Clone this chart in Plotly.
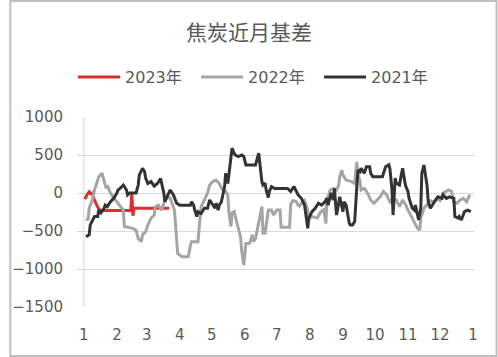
import plotly.graph_objects as go

BASE_YEAR = 2021

# ---------------- data (dates as month-day, values in yuan/ton) ----------------
dates_2023 = ["01-02", "01-04", "01-06", "01-07", "01-09", "01-10", "01-13", "01-16",
              "02-14", "02-15", "02-16", "02-17", "03-22"]
basis_2023 = [-80, -20, 15, -10, 0, -60, -160, -230,
              -230, 0, -300, -200, -200]

dates_2022 = ["01-03", "01-05", "01-06", "01-09", "01-11", "01-13", "01-15", "01-18", "01-20", "01-22",
              "01-23", "01-26", "01-29", "02-01", "02-04", "02-07", "02-08", "02-16", "02-19", "02-21",
              "02-24", "02-25", "02-28", "03-02", "03-05", "03-08", "03-09", "03-12", "03-15", "03-17",
              "03-20", "03-23", "03-27", "03-29", "03-30", "04-03", "04-09", "04-11", "04-12", "04-18",
              "04-20", "04-21", "04-24", "04-27", "04-29", "05-02", "05-05", "05-08", "05-11", "05-14",
              "05-16", "05-17", "05-19", "05-20", "05-22", "05-23", "05-25", "05-28", "05-29", "05-31",
              "06-02", "06-05", "06-06", "06-08", "06-09", "06-11", "06-14", "06-15", "06-17", "06-18",
              "06-20", "06-23", "06-26", "06-28", "07-01", "07-04", "07-05", "07-13", "07-14", "07-16",
              "07-19", "07-21", "07-22", "07-24", "07-27", "07-30", "07-31", "08-03", "08-08", "08-11",
              "08-14", "08-16", "08-17", "08-20", "08-23", "08-26", "08-28", "08-29", "08-31", "09-01",
              "09-04", "09-09", "09-12", "09-14", "09-15", "09-17", "09-18", "09-21", "09-24", "09-27",
              "09-30", "10-03", "10-06", "10-09", "10-12", "10-15", "10-18", "10-21", "10-24", "10-27",
              "10-30", "11-01", "11-04", "11-07", "11-10", "11-12", "11-13", "11-16", "11-19", "11-22",
              "11-25", "11-28", "12-01", "12-04", "12-09", "12-12", "12-14", "12-17", "12-20", "12-23",
              "12-26", "12-29"]
basis_2022 = [-333, -355, -200, -92, 40, 120, 215, 260, 150, 60,
              100, 0, -65, -120, -160, -225, -440, -465, -490, -600,
              -640, -550, -510, -420, -330, -290, -180, -160, -225, -135,
              -50, -70, -225, -575, -795, -840, -840, -685, -640, -640,
              -355, -180, -92, 0, 105, 150, 170, 125, 40, 20,
              -25, -245, -440, -265, -245, -310, -420, -575, -750, -950,
              -665, -665, -640, -550, -640, -600, -400, -330, -180, -530,
              -530, -225, -225, -290, -225, -225, -450, -450, -150, -100,
              -110, -160, -170, -140, -100, -225, -340, -310, -330, -250,
              -220, -400, -92, 40, 60, 40, 100, 215, 300, 235,
              170, 150, 125, 410, 260, 150, 40, 60, 0, -92,
              -135, -92, -50, 20, -25, -115, -70, -92, -180, -92,
              -160, -225, -310, -400, -465, -490, -330, -200, -150, -100,
              -120, -70, -100, 0, 40, 20, -115, -135, -92, -70,
              -115, -20]

dates_2021 = ["01-03", "01-06", "01-07", "01-09", "01-11", "01-14", "01-15", "01-17", "01-20", "01-21",
              "01-23", "01-26", "01-29", "02-01", "02-02", "02-04", "02-07", "02-08", "02-10", "02-11",
              "02-13", "02-19", "02-21", "02-22", "02-25", "02-27", "02-28", "03-02", "03-05", "03-08",
              "03-11", "03-14", "03-15", "03-17", "03-18", "03-22", "03-23", "03-26", "03-29", "04-01",
              "04-11", "04-12", "04-14", "04-15", "04-17", "04-18", "04-21", "04-24", "04-27", "04-29",
              "05-02", "05-04", "05-05", "05-07", "05-08", "05-10", "05-11", "05-13", "05-14", "05-16",
              "05-17", "05-19", "05-20", "05-22", "05-23", "05-26", "05-29", "05-31", "06-02", "06-06",
              "06-11", "06-14", "06-15", "06-17", "06-18", "06-20", "06-21", "06-23", "06-24", "06-26",
              "06-29", "07-11", "07-14", "07-17", "07-21", "07-24", "07-27", "07-28", "07-30", "07-31",
              "08-03", "08-06", "08-09", "08-12", "08-15", "08-17", "08-18", "08-21", "08-23", "08-24",
              "08-26", "08-28", "08-29", "09-01", "09-02", "09-04", "09-07", "09-08", "09-10", "09-12",
              "09-14", "09-15", "09-17", "09-18", "09-21", "09-23", "09-26", "09-27", "09-29", "10-08",
              "10-11", "10-14", "10-15", "10-17", "10-18", "10-20", "10-21", "10-24", "10-26", "10-27",
              "10-29", "10-30", "11-01", "11-02", "11-05", "11-07", "11-08", "11-11", "11-13", "11-14",
              "11-16", "11-17", "11-19", "11-20", "11-22", "11-25", "11-26", "11-29", "12-03", "12-04",
              "12-07", "12-10", "12-14", "12-15", "12-18", "12-19", "12-21", "12-22", "12-24", "12-27",
              "12-30"]
basis_2021 = [-575, -550, -420, -360, -310, -310, -225, -260, -200, -160,
              -180, -115, -70, 0, 40, 60, 105, 85, 40, -25,
              0, 0, 105, 235, 325, 280, 195, 125, 150, 90,
              125, 190, 125, 0, -115, 0, 40, -25, -135, -160,
              -160, -115, -160, -225, -310, -245, -270, -200, -200, -92,
              -160, -200, -135, -225, -160, -115, -50, 85, 260, 125,
              235, 435, 590, 520, 500, 480, 500, 480, 370, 370,
              370, 525, 370, 150, 105, 130, 40, -60, 20, 85,
              60, 60, 20, 85, -25, -70, -160, -270, -465, -330,
              -245, -200, -135, -160, -115, -70, -160, 0, -92, 60,
              -290, -135, -50, -245, -115, -160, -400, -420, -420, -375,
              0, 300, 280, 325, 260, 345, 345, 260, 215, 215,
              345, 370, 325, 40, -290, 195, 130, 105, 260, 325,
              150, 85, 20, -70, -200, -225, -160, -355, -200, 260,
              370, 260, 85, -115, -200, -135, -115, -50, -70, -25,
              -70, -50, -70, -310, -330, -310, -355, -310, -245, -225,
              -245]

month_ticks = ["2021-01-01", "2021-02-01", "2021-03-01", "2021-04-01", "2021-05-01", "2021-06-01",
               "2021-07-01", "2021-08-01", "2021-09-01", "2021-10-01", "2021-11-01", "2021-12-01",
               "2022-01-01"]
month_labels = ["1", "2", "3", "4", "5", "6", "7", "8", "9", "10", "11", "12", "1"]
y_ticks = [-1500, -1000, -500, 0, 500, 1000]

series = [
    ("2023年", dates_2023, basis_2023, "#d9302c"),
    ("2022年", dates_2022, basis_2022, "#a5a5a5"),
    ("2021年", dates_2021, basis_2021, "#333333"),
]

TICK_FONT = "DejaVu Sans, Noto Sans CJK SC, sans-serif"
CJK_FONT = "Noto Sans CJK SC, sans-serif"
TXT = "#595959"
W, H = 498, 357
L, R, T, B = 69, 24, 117, 50

fig = go.Figure()
for name, d, v, c in series:
    fig.add_trace(go.Scatter(
        x=[f"{BASE_YEAR}-{s}" for s in d], y=v, name=name, mode="lines",
        line=dict(color=c, width=3), hoverinfo="skip"))

pw, ph = W - L - R, H - T - B
fig.update_layout(
    width=W, height=H,
    margin=dict(l=L, r=R, t=T, b=B),
    paper_bgcolor="white", plot_bgcolor="white",
    font=dict(family=TICK_FONT, size=15, color=TXT),
    title=dict(text="焦炭近月基差", x=0.5, xanchor="center", xref="container",
               y=1 - 33 / H, yanchor="middle", yref="container",
               font=dict(family=CJK_FONT, size=21, color=TXT)),
    legend=dict(orientation="h", x=(65 - L) / pw, xanchor="left",
                y=(H - B - 77) / ph, yanchor="middle", itemwidth=42,
                entrywidth=66, entrywidthmode="pixels",
                font=dict(family=TICK_FONT, size=16, color=TXT),
                bgcolor="rgba(0,0,0,0)"),
    showlegend=True,
    shapes=[
        dict(type="line", xref="x", yref="y", x0="2021-01-01", x1="2021-01-01",
             y0=-1500, y1=1000, line=dict(color="#d9d9d9", width=1), layer="below"),
        dict(type="rect", xref="paper", yref="paper",
             x0=(1 - L) / pw, x1=(W - 1 - L) / pw,
             y0=(H - B - (H - 1)) / ph, y1=(H - B - 1) / ph,
             line=dict(color="#bfbfbf", width=2), fillcolor="rgba(0,0,0,0)"),
    ],
)
fig.update_xaxes(type="date", range=["2020-12-25 14:00", "2022-01-01 22:00"],
                 tickmode="array", tickvals=month_ticks, ticktext=month_labels,
                 showgrid=False, zeroline=False, showline=False,
                 ticks="outside", ticklen=14, tickcolor="rgba(0,0,0,0)",
                 tickfont=dict(family=TICK_FONT, size=15, color=TXT))
fig.update_yaxes(range=[-1500, 1000], tickmode="array", tickvals=y_ticks,
                 showgrid=True, gridcolor="#d9d9d9", gridwidth=1,
                 zeroline=False, showline=False,
                 ticks="outside", ticklen=10, tickcolor="rgba(0,0,0,0)",
                 tickfont=dict(family=TICK_FONT, size=15, color=TXT))

fig.write_html("out.html", config={"displayModeBar": False},
               post_script="document.body.style.margin='0';")
